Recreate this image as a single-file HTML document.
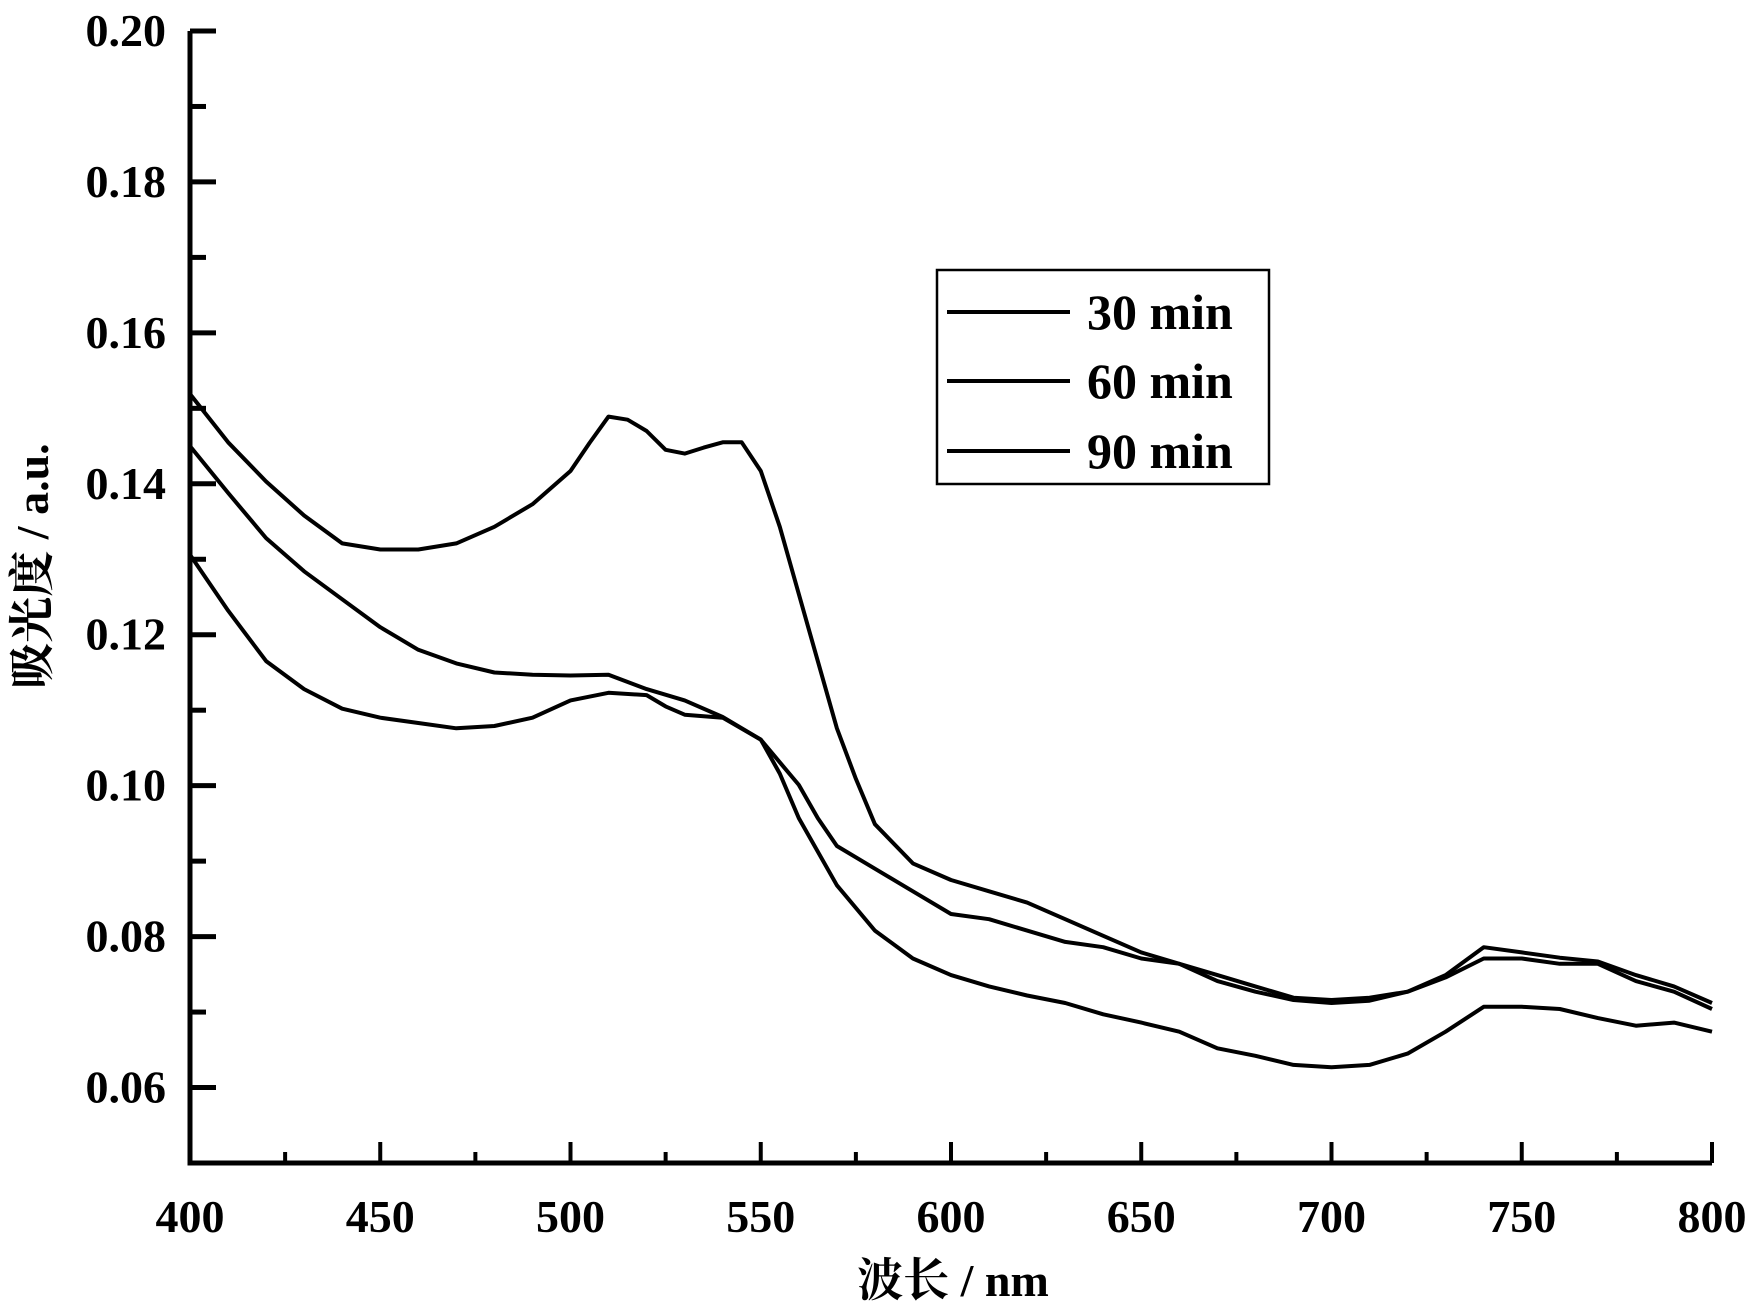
<!DOCTYPE html>
<html><head><meta charset="utf-8"><style>
html,body{margin:0;padding:0;background:#fff}
svg text{font-family:"Liberation Serif","Noto Serif CJK SC",serif;font-weight:bold;fill:#000}
</style></head><body>
<svg id="chart" width="1752" height="1304" viewBox="0 0 1752 1304" xmlns="http://www.w3.org/2000/svg">
<g id="axes"></g>
<g id="series"></g>
<text transform="translate(48,566) rotate(-90)" text-anchor="middle" font-size="46">吸光度 / a.u.</text>
<text x="953" y="1296" text-anchor="middle" font-size="46">波长 / nm</text>
<g>
<rect x="937" y="270" width="332" height="214" fill="#fff" stroke="#000" stroke-width="2.5"/>
<line x1="947" y1="312" x2="1070" y2="312" stroke="#000" stroke-width="4"/>
<text x="1087" y="329" font-size="50">30 min</text>
<line x1="947" y1="381" x2="1070" y2="381" stroke="#000" stroke-width="4"/>
<text x="1087" y="398" font-size="50">60 min</text>
<line x1="947" y1="451" x2="1070" y2="451" stroke="#000" stroke-width="4"/>
<text x="1087" y="468" font-size="50">90 min</text>
</g>
</svg>
<script>
const wl30=[400,410,420,430,440,450,460,470,480,490,500,505,510,515,520,525,530,535,540,545,550,555,560,565,570,575,580,590,600,610,620,630,640,650,660,670,680,690,700,710,720,730,740,750,760,770,780,790,800];
const s30=[0.1519,0.1455,0.1403,0.1358,0.1321,0.1313,0.1313,0.1321,0.1343,0.1373,0.1417,0.1454,0.1489,0.1485,0.1470,0.1445,0.1440,0.1448,0.1455,0.1455,0.1417,0.1343,0.1254,0.1165,0.1076,0.1009,0.0949,0.0897,0.0875,0.0860,0.0845,0.0823,0.0801,0.0779,0.0764,0.0749,0.0734,0.0719,0.0716,0.0719,0.0727,0.0749,0.0786,0.0779,0.0772,0.0767,0.0749,0.0734,0.0712];
const wl60=[400,410,420,430,440,450,460,470,480,490,500,510,520,530,540,550,555,560,565,570,580,590,600,610,620,630,640,650,660,670,680,690,700,710,720,730,740,750,760,770,780,790,800];
const s60=[0.1450,0.1388,0.1328,0.1284,0.1247,0.1210,0.1180,0.1162,0.1150,0.1147,0.1146,0.1147,0.1128,0.1113,0.1091,0.1061,0.1031,0.1001,0.0957,0.0920,0.0890,0.0860,0.0830,0.0823,0.0808,0.0793,0.0786,0.0771,0.0764,0.0741,0.0727,0.0716,0.0712,0.0715,0.0727,0.0746,0.0771,0.0771,0.0764,0.0764,0.0741,0.0727,0.0704];
const wl90=[400,410,420,430,440,450,460,470,480,490,500,510,520,525,530,540,550,555,560,570,580,590,600,610,620,630,640,650,660,670,680,690,700,710,720,730,740,750,760,770,780,790,800];
const s90=[0.1306,0.1232,0.1165,0.1128,0.1102,0.1090,0.1083,0.1076,0.1079,0.1090,0.1113,0.1123,0.1120,0.1105,0.1094,0.1090,0.1061,0.1016,0.0957,0.0868,0.0808,0.0771,0.0749,0.0734,0.0722,0.0712,0.0697,0.0686,0.0674,0.0652,0.0642,0.0630,0.0627,0.0630,0.0645,0.0674,0.0707,0.0707,0.0704,0.0692,0.0682,0.0686,0.0674];
const xTicks=[400,450,500,550,600,650,700,750,800];
const yTicks=[0.06,0.08,0.10,0.12,0.14,0.16,0.18,0.20];
const X0=190,X1=1712,Y0=1163,Y1=31,XMIN=400,XMAX=800,YMIN=0.05,YMAX=0.20;
function xs(v){return X0+(v-XMIN)/(XMAX-XMIN)*(X1-X0);}
function ys(v){return Y0-(v-YMIN)/(YMAX-YMIN)*(Y0-Y1);}
const NS="http://www.w3.org/2000/svg";
const axes=document.getElementById('axes');
function mk(tag,attrs,parent){const e=document.createElementNS(NS,tag);for(const k in attrs)e.setAttribute(k,attrs[k]);parent.appendChild(e);return e;}
let ax=mk('path',{d:`M${X0},${Y1} V${Y0} H${X1}`,fill:'none',stroke:'#000','stroke-width':5},axes);


xTicks.forEach((t,i)=>{
  const x=xs(t);
  const tk=mk('line',{x1:x,y1:Y0,x2:x,y2:Y0-21,stroke:'#000','stroke-width':4},axes);
  
  
  if(i<xTicks.length-1){const mx=xs(t+25);
    const mt=mk('line',{x1:mx,y1:Y0,x2:mx,y2:Y0-11,stroke:'#000','stroke-width':4},axes);
    
    }
  const lb=mk('text',{x:x,y:1232,'text-anchor':'middle','font-size':46},axes);
  lb.textContent=String(t);
  
  
});
yTicks.forEach((t)=>{
  const y=ys(t);
  const tk=mk('line',{x1:X0,y1:y,x2:X0+26,y2:y,stroke:'#000','stroke-width':5},axes);
  
  
  const my=ys(t-0.01);
  const mt=mk('line',{x1:X0,y1:my,x2:X0+16,y2:my,stroke:'#000','stroke-width':5},axes);
  
  
  const lb=mk('text',{x:166,y:y+15,'text-anchor':'end','font-size':46},axes);
  lb.textContent=t.toFixed(2);
  
  
});
const ser=document.getElementById('series');
[[wl30,s30,'series-30-min'],[wl60,s60,'series-60-min'],[wl90,s90,'series-90-min']].forEach(([w,s,n])=>{
  const d=w.map((v,i)=>(i?'L':'M')+xs(v).toFixed(1)+','+ys(s[i]).toFixed(1)).join(' ');
  const p=mk('path',{d:d,fill:'none',stroke:'#000','stroke-width':4,'stroke-linejoin':'round'},ser);
  
  
});
</script>
</body></html>
